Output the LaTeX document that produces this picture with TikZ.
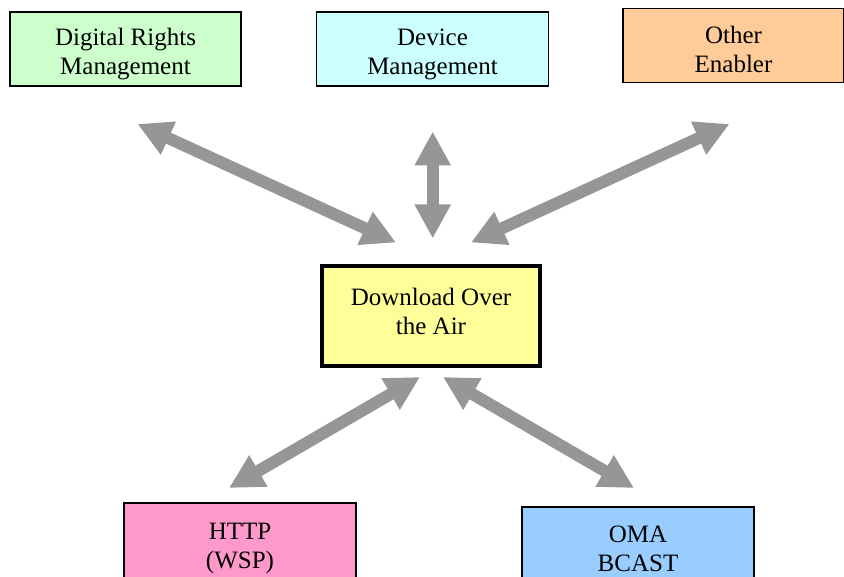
\documentclass[tikz,border=0pt]{standalone}
\usepackage{fontspec}
\setmainfont{Liberation Serif}
\usetikzlibrary{arrows.meta}
\definecolor{drmgreen}{HTML}{CCFFCC}
\definecolor{devcyan}{HTML}{CCFFFF}
\definecolor{othorange}{HTML}{FFCC99}
\definecolor{dlyellow}{HTML}{FFFF99}
\definecolor{httppink}{HTML}{FF99CC}
\definecolor{omablue}{HTML}{99CCFF}
\definecolor{arrgray}{HTML}{969696}
\tikzset{
  box/.style={draw=black, line width=1.5pt, inner sep=0pt},
  lbl/.style={align=center, inner sep=0pt, font=\fontsize{25}{29}\selectfont},
  dblarrow/.style={draw=arrgray, line width=12pt,
    {Triangle[width=34pt,length=34pt]}-{Triangle[width=34pt,length=34pt]}},
}
\begin{document}
\begin{tikzpicture}[x=1pt,y=-1pt]
\useasboundingbox (0,0) rectangle (844,577);
\node[box, fill=drmgreen, minimum width=231pt, minimum height=74pt] (drm) at (125.5,49) {};
\node[box, fill=devcyan, minimum width=232pt, minimum height=74pt] (dev) at (432.5,49) {};
\node[box, fill=othorange, minimum width=221pt, minimum height=74pt] (oth) at (733.5,45.5) {};
\node[box, fill=dlyellow, line width=4pt, minimum width=218pt, minimum height=100pt] (dl) at (431,316) {};
\node[box, fill=httppink, minimum width=232pt, minimum height=77pt] (http) at (240,541.5) {};
\node[box, fill=omablue, minimum width=232pt, minimum height=77pt] (oma) at (638,545.5) {};
\node[lbl, yshift=-5.5pt] (drmT) at (drm) {Digital Rights\\Management};
\node[lbl, yshift=-5.5pt] (devT) at (dev) {Device\\Management};
\node[lbl, yshift=-4pt] (othT) at (oth) {Other\\Enabler};
\node[lbl, yshift=4.5pt] (dlT) at (dl) {Download Over\\the Air};
\node[lbl, yshift=-7pt] (httpT) at (http) {HTTP\\(WSP)};
\node[lbl, yshift=-3.5pt] (omaT) at (oma) {OMA\\BCAST};
\coordinate (drmA) at (137.5,124);
\coordinate (drmB) at (396,242.5);
\coordinate (devA) at (432.7,131.5);
\coordinate (devB) at (432.7,238.5);
\coordinate (othA) at (729.5,124);
\coordinate (othB) at (471,242.5);
\coordinate (httpA) at (420,377);
\coordinate (httpB) at (229,488);
\coordinate (omaA) at (443,377);
\coordinate (omaB) at (634,488);
\draw[dblarrow] (drmA) -- (drmB);
\draw[dblarrow] (devA) -- (devB);
\draw[dblarrow] (othA) -- (othB);
\draw[dblarrow] (httpA) -- (httpB);
\draw[dblarrow] (omaA) -- (omaB);
\end{tikzpicture}
\end{document}
